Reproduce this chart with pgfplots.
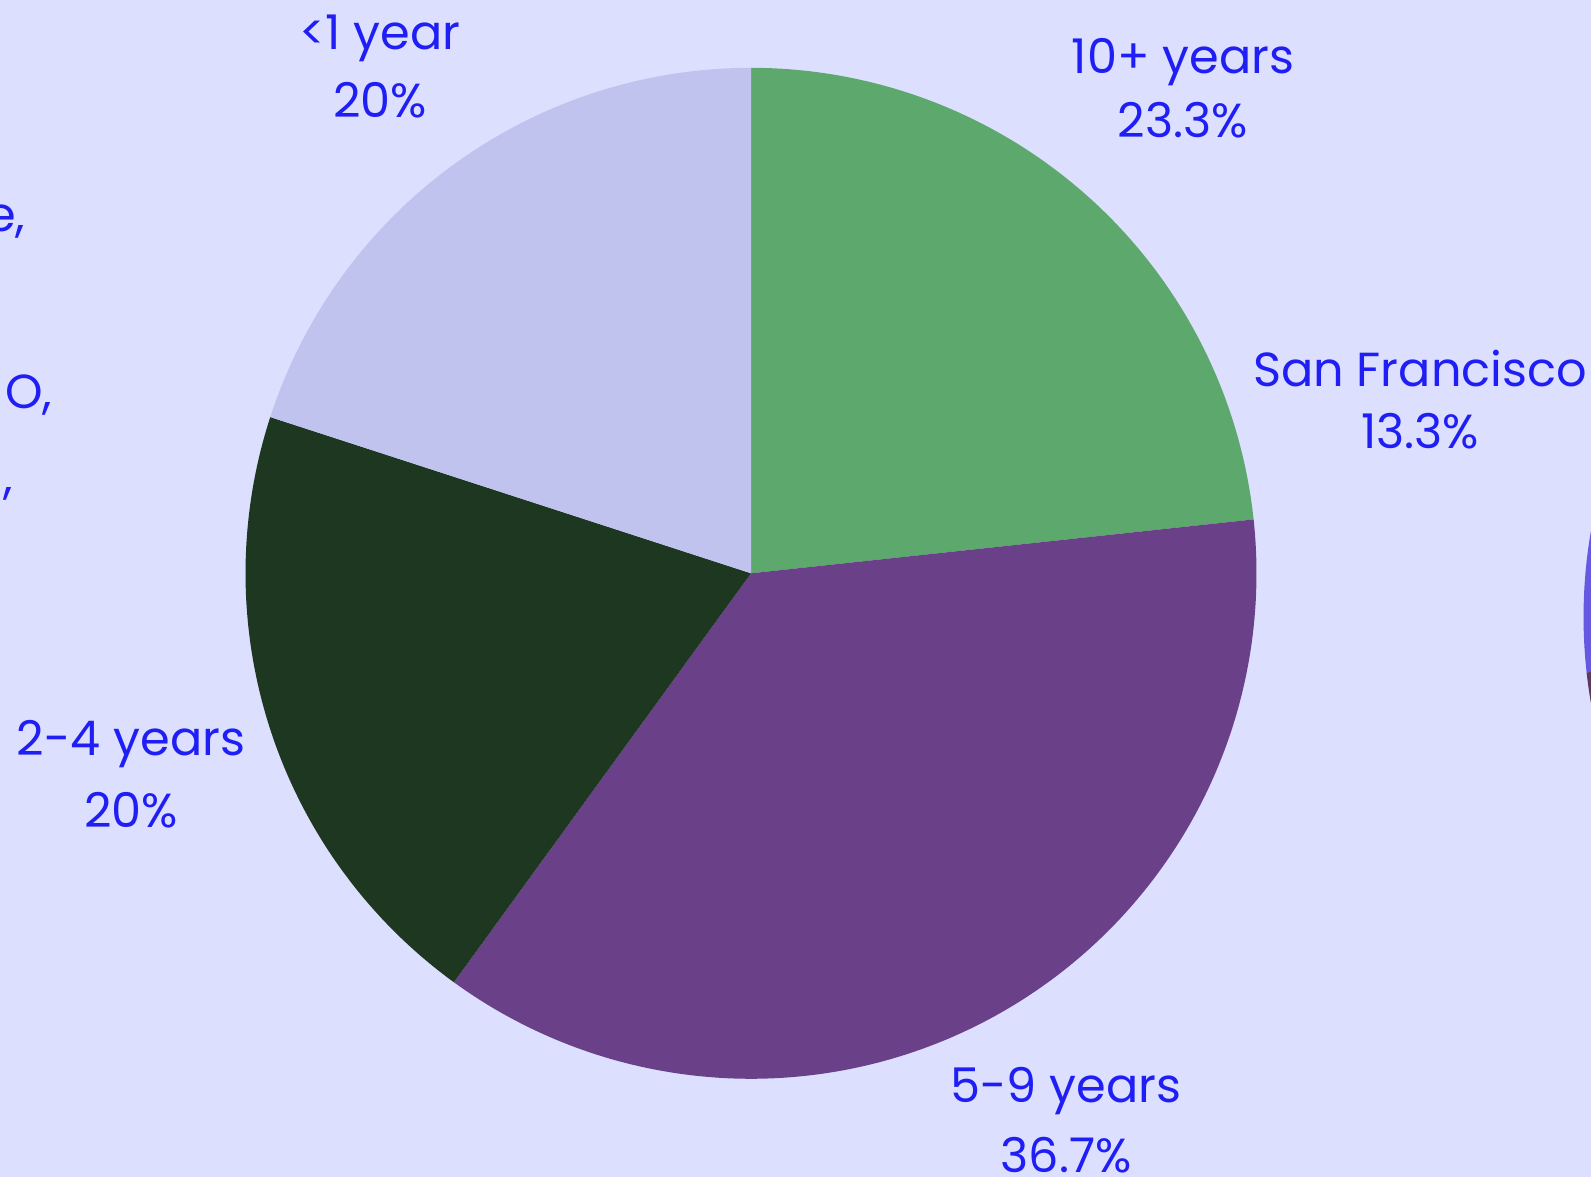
\documentclass[border=0pt]{standalone}
\usepackage{pgfplots}
\pgfplotsset{compat=1.18}
\usepackage{fontspec}
\setmainfont{Poppins}
\definecolor{bg}{HTML}{DDDFFE}
\definecolor{cTen}{HTML}{5DA96D}
\definecolor{cFive}{HTML}{6A4189}
\definecolor{cTwo}{HTML}{1D3721}
\definecolor{cOne}{HTML}{BFC3EE}
\definecolor{cSF}{HTML}{6459E0}
\definecolor{cSFb}{HTML}{5C3A5C}
\definecolor{txt}{HTML}{1F1FF5}
\tikzset{lbl/.style={font=\fontsize{13.6}{16}\selectfont, text=txt, inner sep=0pt}}
\begin{document}
\begin{tikzpicture}
% shares (percent) of the left pie, clockwise from 12 o'clock
\def\pTen{23.3}\def\pFive{36.7}\def\pTwo{20}\def\pOne{20}
\pgfmathsetmacro\aA{90}
\pgfmathsetmacro\aB{\aA-3.6*\pTen}
\pgfmathsetmacro\aC{\aB-3.6*\pFive}
\pgfmathsetmacro\aD{\aC-3.6*\pTwo}
\pgfmathsetmacro\aE{\aD-3.6*\pOne}
\def\cx{751}\def\cy{603.7}\def\R{505.5}
\begin{axis}[scale only axis, width=15.91cm, height=11.77cm,
  xmin=0, xmax=1591, ymin=0, ymax=1177, hide axis, clip=true]
\addplot[fill=bg, draw=none] coordinates {(0,0) (1591,0) (1591,1177) (0,1177)} -- cycle;
% left pie
\addplot[fill=cTen, draw=none, domain=\aB:\aA, samples=120, variable=\t]
  ({\cx+\R*cos(t)}, {\cy+\R*sin(t)}) -- (axis cs:\cx,\cy) -- cycle;
\addplot[fill=cFive, draw=none, domain=\aC:\aB, samples=160, variable=\t]
  ({\cx+\R*cos(t)}, {\cy+\R*sin(t)}) -- (axis cs:\cx,\cy) -- cycle;
\addplot[fill=cTwo, draw=none, domain=\aD:\aC, samples=100, variable=\t]
  ({\cx+\R*cos(t)}, {\cy+\R*sin(t)}) -- (axis cs:\cx,\cy) -- cycle;
\addplot[fill=cOne, draw=none, domain=\aE:\aD, samples=100, variable=\t]
  ({\cx+\R*cos(t)}, {\cy+\R*sin(t)}) -- (axis cs:\cx,\cy) -- cycle;
% right pie (mostly outside the view)
\addplot[fill=cSF, draw=none, domain=150:186.3, samples=60, variable=\t]
  ({2089+505.5*cos(t)}, {560+505.5*sin(t)}) -- (axis cs:2089,560) -- cycle;
\addplot[fill=cSFb, draw=none, domain=186.3:215, samples=60, variable=\t]
  ({2089+505.5*cos(t)}, {560+505.5*sin(t)}) -- (axis cs:2089,560) -- cycle;
% labels
\node[lbl, anchor=base] at (axis cs:1183,1103) {10+ years};
\node[lbl, anchor=base] at (axis cs:1183,1039) {23.3\%};
\node[lbl, anchor=base] at (axis cs:1420,790) {San Francisco};
\node[lbl, anchor=base] at (axis cs:1420,729) {13.3\%};
\node[lbl, anchor=base] at (axis cs:380,1127) {<1 year};
\node[lbl, anchor=base] at (axis cs:380,1059) {20\%};
\node[lbl, anchor=base] at (axis cs:131,422) {2-4 years};
\node[lbl, anchor=base] at (axis cs:131,350) {20\%};
\node[lbl, anchor=base] at (axis cs:1066,75) {5-9 years};
\node[lbl, anchor=base] at (axis cs:1066,5) {36.7\%};
\node[lbl, anchor=base east] at (axis cs:26,945) {e,};
\node[lbl, anchor=base east] at (axis cs:53,769) {O,};
\node[lbl, anchor=base east] at (axis cs:14,684) {,};
\end{axis}
\pgfresetboundingbox
\path[use as bounding box] (current axis.south west) rectangle (current axis.north east);
\end{tikzpicture}
\end{document}
